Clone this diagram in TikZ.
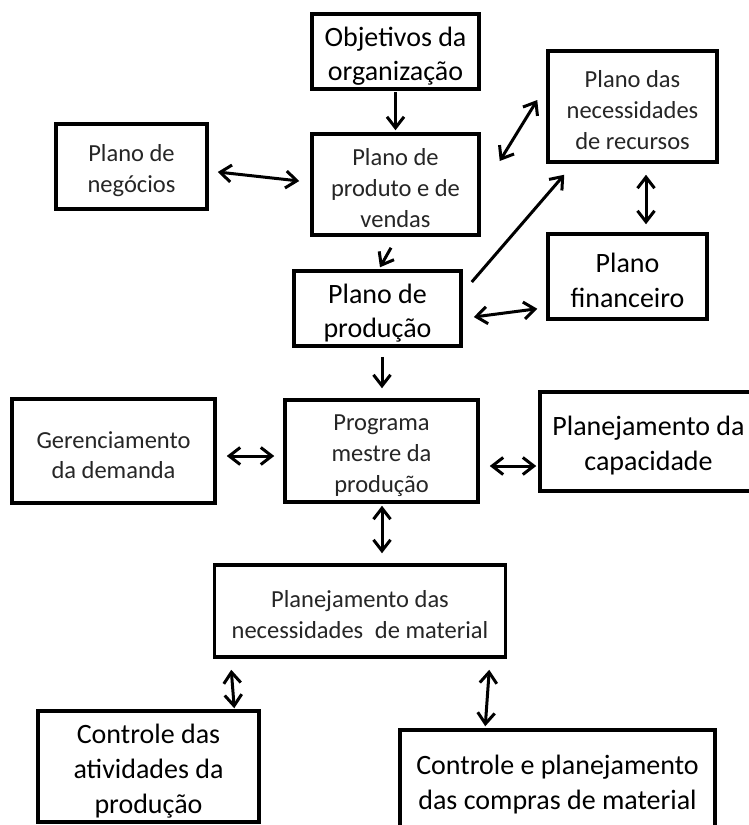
\documentclass[tikz,border=0pt]{standalone}
\usepackage{fontspec}
\setmainfont{Carlito}
\usetikzlibrary{arrows.meta,calc}
\newcommand\tup{\rule{0pt}{1em}}
\tikzset{
  box/.style={draw, line width=3.5pt, inner sep=0pt, align=center, text=black!85,
    font=\fontsize{24.5}{31}\selectfont},
  bigbox/.style={box, text=black, font=\fontsize{28}{35}\selectfont},
  headtip/.tip={Straight Barb[length=11pt,width=17pt,line width=3pt]},
  arr/.style={line width=3pt, -headtip},
  darr/.style={line width=3pt, headtip-headtip},
}
\begin{document}
\begin{tikzpicture}[x=1pt,y=-1pt]
\useasboundingbox (0,0) rectangle (749,825);
\fill[white] (0,0) rectangle (749,825);

\node[bigbox, minimum width=167pt, minimum height=75pt, font=\fontsize{28}{34}\selectfont] (obj) at (395.5,51.5) {\tup Objetivos da\\organização};
\node[box, minimum width=167pt, minimum height=101pt] (prod) at (395.5,184.5) {\tup Plano de\\produto e de\\vendas};
\node[box, minimum width=151pt, minimum height=85pt] (neg) at (131.5,166.5) {\tup Plano de\\negócios};
\node[box, minimum width=169pt, minimum height=111pt] (rec) at (632.5,106.5) {\tup Plano das\\necessidades\\de recursos};
\node[bigbox, minimum width=159pt, minimum height=85pt] (fin) at (627.5,276.5) {\tup Plano\\financeiro};
\node[bigbox, minimum width=167pt, minimum height=75pt, font=\fontsize{28}{34}\selectfont] (pp) at (377.5,308.5) {\tup Plano de\\produção};
\node[box, minimum width=203pt, minimum height=104pt, font=\fontsize{24.5}{30}\selectfont] (dem) at (113.5,451) {\tup Gerenciamento\\da demanda};
\node[box, minimum width=193pt, minimum height=102pt] (pmp) at (381.5,451) {\tup Programa\\mestre da\\produção};
\node[bigbox, minimum width=217pt, minimum height=99pt] (cap) at (648.5,441.5) {\tup Planejamento da\\capacidade};
\node[box, minimum width=291pt, minimum height=92pt] (mrp) at (360,611) {\tup Planejamento das\\necessidades\hspace{0.25em} de material};
\node[bigbox, minimum width=221pt, minimum height=111pt] (cat) at (148.5,766.5) {\tup Controle das\\atividades da\\produção};
\node[bigbox, minimum width=315pt, minimum height=101pt] (comp) at (557.5,780.5) {\tup Controle e planejamento\\das compras de material};

% connectors
\draw[arr] ([yshift=-1pt]obj.south) -- ([yshift=2pt]prod.north);
\draw[darr] ([xshift=9pt,yshift=-5.5pt]neg.east) -- ([xshift=-11pt,yshift=3.5pt]prod.west);
\draw[darr] ([xshift=19pt,yshift=23.5pt]prod.east) -- ([xshift=-9pt,yshift=6.5pt]rec.west);
\draw[darr] ([xshift=13.5pt,yshift=-11pt]rec.south) -- ([xshift=18.5pt,yshift=8pt]fin.north);
\draw[arr] ([xshift=-4.5pt,yshift=-11pt]prod.south) -- ([xshift=2.5pt,yshift=2pt]pp.north);
\draw[arr] ([xshift=9pt,yshift=26.5pt]pp.east) -- ([xshift=18pt,yshift=-11pt]rec.south west);
\draw[darr] ([xshift=11pt,yshift=-8.5pt]pp.east) -- ([xshift=-9pt,yshift=12pt]fin.south west);
\draw[arr] ([xshift=4.5pt,yshift=-9pt]pp.south) -- ([xshift=0.5pt,yshift=10pt]pmp.north);
\draw[darr] ([xshift=10pt,yshift=-5pt]dem.east) -- ([xshift=-9pt,yshift=-5pt]pmp.west);
\draw[darr] ([xshift=10pt,yshift=-15pt]pmp.east) -- ([xshift=-2pt,yshift=-24.5pt]cap.west);
\draw[darr] ([xshift=0.5pt,yshift=-2pt]pmp.south) -- ([xshift=22pt,yshift=10pt]mrp.north);
\draw[darr] ([xshift=18.5pt,yshift=-11pt]mrp.south west) -- ([xshift=-26.5pt,yshift=1pt]cat.north east);
\draw[darr] ([xshift=-18pt,yshift=-11pt]mrp.south east) -- ([xshift=87pt,yshift=2pt]comp.north west);
\end{tikzpicture}
\end{document}
